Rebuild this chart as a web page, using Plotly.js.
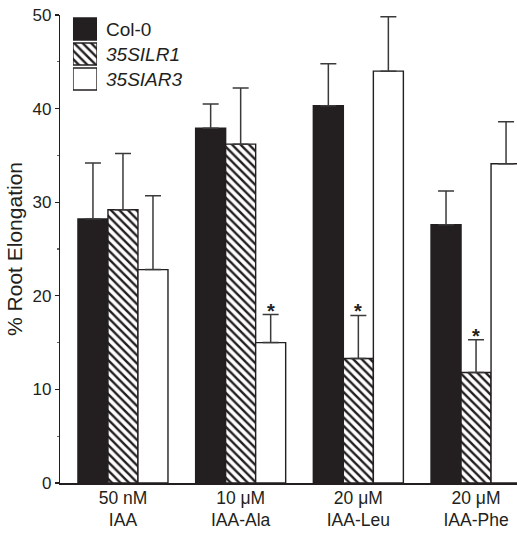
<!DOCTYPE html>
<html>
<head>
<meta charset="utf-8">
<script src="https://cdn.plot.ly/plotly-3.0.1.min.js"></script>
<style>html,body{margin:0;padding:0;background:#fff;}#chart{width:517px;height:533px;}</style>
</head>
<body>
<div id="chart"></div>
<script>
// ---- data ----
const categories = ['50 nM<br>IAA', '10 μM<br>IAA-Ala', '20 μM<br>IAA-Leu', '20 μM<br>IAA-Phe'];
const seriesNames = ['Col-0', '35SILR1', '35SIAR3'];
const seriesLabels = ['Col-0', '<i>35SILR1</i>', '<i>35SIAR3</i>'];
const col0 = [28.2, 37.9, 40.3, 27.6];
const col0Err = [6.0, 2.6, 4.5, 3.6];
const ilr1 = [29.2, 36.2, 13.3, 11.8];
const ilr1Err = [6.0, 6.0, 4.6, 3.5];
const iar3 = [22.8, 15.0, 44.0, 34.1];
const iar3Err = [7.9, 3.0, 5.8, 4.5];
const col0Sig = [false, false, false, false];
const ilr1Sig = [false, false, true, true];
const iar3Sig = [false, true, false, false];
const yTickVals = [0, 10, 20, 30, 40, 50];
const yTitle = '% Root Elongation';

// ---- styles ----
const INK = '#231f20';
const FONT = 'Liberation Sans, Arial, Helvetica, sans-serif';
const BARGAP = 0.235;
const barUnit = (1 - BARGAP) / 3;
const hatch = {shape: '\\', size: 6, solidity: 0.4, fgcolor: INK, bgcolor: 'white'};
const styles = [
  {color: INK, pattern: {shape: ''}},
  {color: 'white', pattern: hatch},
  {color: 'white', pattern: {shape: ''}}
];
const values = [col0, ilr1, iar3];
const errs = [col0Err, ilr1Err, iar3Err];
const sigs = [col0Sig, ilr1Sig, iar3Sig];

const traces = values.map((v, k) => ({
  type: 'bar',
  name: seriesNames[k],
  x: categories,
  y: v,
  xaxis: 'x', yaxis: 'y',
  marker: {color: styles[k].color, pattern: styles[k].pattern, line: {color: INK, width: 1.4}},
  error_y: {type: 'data', array: errs[k], arrayminus: v.map(() => 0), symmetric: false,
            color: '#3a3a3a', thickness: 1.5, width: 8},
  showlegend: false,
  hoverinfo: 'skip'
}));

// legend swatches drawn as a small bar subplot (one trace per series)
seriesNames.forEach((name, k) => {
  traces.push({
    type: 'bar',
    orientation: 'h',
    y: [name],
    x: [1],
    width: 0.88,
    xaxis: 'x2', yaxis: 'y2',
    marker: {color: styles[k].color, pattern: styles[k].pattern, line: {color: INK, width: 1.4}},
    showlegend: false,
    hoverinfo: 'skip'
  });
});

const annotations = [];
sigs.forEach((arr, k) => {
  arr.forEach((s, i) => {
    if (s) {
      annotations.push({
        xref: 'x', yref: 'y',
        x: i + (k - 1) * barUnit,
        y: values[k][i] + errs[k][i],
        text: '<b>*</b>', showarrow: false,
        yanchor: 'bottom', yshift: -9,
        font: {family: FONT, size: 20, color: INK}
      });
    }
  });
});

const layout = {
  width: 517, height: 533,
  margin: {l: 60, r: 0, t: 15, b: 50, pad: 0},
  paper_bgcolor: 'white', plot_bgcolor: 'white',
  barmode: 'group', bargap: BARGAP, bargroupgap: 0,
  font: {family: FONT, color: INK},
  xaxis: {
    type: 'category', range: [-0.535, 3.348],
    showline: true, linecolor: INK, linewidth: 1.5,
    ticks: '', showgrid: false, zeroline: false,
    tickfont: {family: FONT, size: 17.5, color: INK},
    ticklabelstandoff: -2,
    fixedrange: true
  },
  yaxis: {
    range: [0, 50], tickvals: yTickVals,
    showline: true, linecolor: INK, linewidth: 1.2,
    ticks: 'outside', ticklen: 4, tickwidth: 1.2, tickcolor: INK,
    minor: {dtick: 5, ticks: 'outside', ticklen: 2, tickcolor: '#666'},
    showgrid: false, zeroline: false,
    tickfont: {family: FONT, size: 17, color: INK},
    title: {text: yTitle, font: {family: FONT, size: 21, color: INK}, standoff: 4},
    fixedrange: true
  },
  xaxis2: {domain: [0.0284, 0.081], range: [0, 1], visible: false, anchor: 'y2', fixedrange: true},
  yaxis2: {
    domain: [0.8365, 0.9968], anchor: 'x2', type: 'category', autorange: 'reversed',
    side: 'right', showline: false, ticks: '', showgrid: false, zeroline: false,
    tickvals: seriesNames, ticktext: seriesLabels,
    ticklabelstandoff: 8,
    tickfont: {family: FONT, size: 19, color: INK}, fixedrange: true
  },
  annotations: annotations,
  showlegend: false
};

Plotly.newPlot('chart', traces, layout, {displayModeBar: false, staticPlot: true});
</script>
</body>
</html>
